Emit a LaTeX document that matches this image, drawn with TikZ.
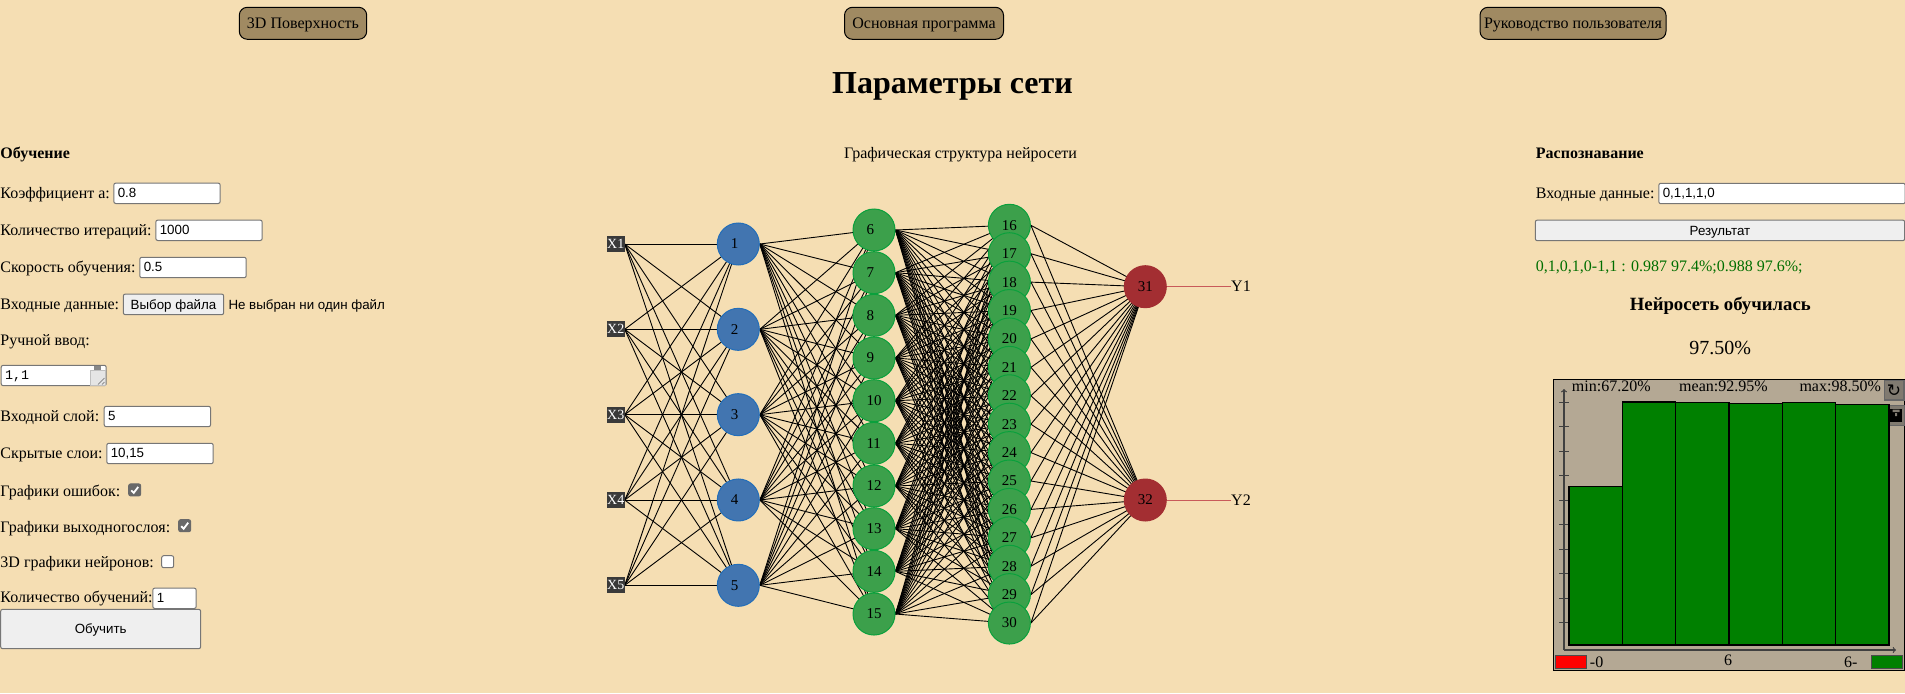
\documentclass[tikz,border=0pt]{standalone}
\usepackage{fontspec}
\setmainfont{Liberation Serif}
\newfontfamily\uisans{Liberation Sans}
\newfontfamily\uimono{Liberation Mono}
\newfontfamily\symfont{DejaVu Sans}
\usetikzlibrary{backgrounds}
\definecolor{pagebg}{RGB}{245,222,179}
\definecolor{btnbrown}{RGB}{160,138,98}
\definecolor{chartbg}{RGB}{180,168,148}
\definecolor{inputgray}{RGB}{118,118,118}
\definecolor{btngray}{RGB}{239,239,239}
\definecolor{chkgray}{RGB}{105,105,105}
\definecolor{xdark}{RGB}{58,58,58}
\definecolor{inblue}{RGB}{66,117,176}
\definecolor{inblueb}{RGB}{35,110,185}
\definecolor{hidgreen}{RGB}{60,160,75}
\definecolor{hidgreenb}{RGB}{10,160,60}
\definecolor{outred}{RGB}{163,46,50}
\definecolor{ywire}{RGB}{200,90,90}
\definecolor{iconbtn}{RGB}{128,122,112}
\definecolor{resgreen}{RGB}{0,110,0}
\tikzset{every node/.style={font=\fontsize{16}{19}\selectfont}}
\tikzstyle{lbl}=[anchor=west, inner sep=0pt, text height=12pt, text depth=2pt]
\tikzstyle{boldlbl}=[lbl, font=\fontsize{16}{19}\selectfont\bfseries]
\tikzstyle{sanslbl}=[lbl, font=\fontsize{13.33}{16}\selectfont\uisans]
\tikzstyle{topbtn}=[draw=black, fill=btnbrown, line width=1pt, rounded corners=8pt, minimum height=32pt, inner xsep=0pt, inner ysep=0pt, text height=12.6pt, text depth=2pt]
\tikzset{inputbox/.style={anchor=west, draw=inputgray, fill=white, line width=1pt, rounded corners=2pt,
    text width=#1, align=left, inner xsep=4pt, inner ysep=0pt, minimum height=20.4pt,
    text height=10pt, text depth=2.5pt, font=\fontsize{13.33}{16}\selectfont\uisans},
  inputbox/.default=98.4pt}
\tikzstyle{graybtn}=[draw=inputgray, fill=btngray, line width=1pt, rounded corners=2pt, inner sep=0pt, text height=10pt, text depth=.5pt, font=\fontsize{13.33}{16}\selectfont\uisans]
\tikzstyle{chkon}=[draw=chkgray, fill=chkgray, line width=1pt, rounded corners=2pt, minimum size=12pt, inner sep=0pt]
\tikzstyle{chkoff}=[chkon, draw=inputgray, fill=white]
\tikzstyle{ball}=[circle, draw, line width=1pt, minimum size=42pt, inner sep=0pt, text width=15pt, align=left, text=black, font=\fontsize{15}{17}\selectfont]
\tikzstyle{inball}=[ball, fill=inblue, draw=inblueb]
\tikzstyle{hidball}=[ball, fill=hidgreen, draw=hidgreenb]
\tikzstyle{outball}=[ball, fill=outred, draw=outred]
\tikzstyle{xbox}=[fill=xdark, text=white, inner sep=0pt, minimum width=17.6pt, minimum height=16pt, font=\fontsize{14}{16}\selectfont]
\tikzstyle{wire}=[black, line width=.9pt]
\tikzstyle{bar}=[draw=black, fill=green!50!black, line width=1.2pt]
\tikzstyle{axisline}=[draw=black!75, line width=1.2pt]
\begin{document}
\begin{tikzpicture}[x=1pt,y=-1pt]
    \useasboundingbox (0,0) rectangle (1905,693);
    \begin{pgfonlayer}{background}
      \fill[pagebg] (0,0) rectangle (1905,693);
    \end{pgfonlayer}

    % top row
    \node[topbtn, minimum width=127.4pt] (btnsurf) at (303,23.3) {3D Поверхность};
    \node[topbtn, minimum width=159pt] (btnmain) at (924,23.3) {Основная программа};
    \node[topbtn, minimum width=186pt] (btnhelp) at (1573,23.3) {Руководство пользователя};
    \node[font=\fontsize{32}{38}\selectfont\bfseries, inner sep=0pt] (title) at (952.5,86) {Параметры сети};

    % left panel labels
    \node[boldlbl] (trainhead) at (0.3,153.3) {Обучение};
    \foreach \name/\ypos/\txt in {coef/193.3/{Коэффициент а:}, iter/230/{Количество итераций:},
      rate/267/{Скорость обучения:}, data/304.7/{Входные данные:}, manual/340/{Ручной ввод:},
      inlayer/416/{Входной слой:}, hidden/453.3/{Скрытые слои:}, errplot/491.3/{Графики ошибок:},
      outplot/527.3/{Графики выходногослоя:}, surfplot/562.7/{3D графики нейронов:}, runs/597/{Количество обучений:}}
    \node[lbl] (lbl\name) at (0.3,\ypos) {\txt};

    % left panel inputs
    \foreach \name/\xpos/\ypos/\txt in {coef/113.3/193.3/0.8, iter/155.3/230.3/1000, rate/139.3/267.5/0.5,
      inlayer/103.7/416.5/5, hidden/106.3/453.5/{10,15}}
    \node[inputbox] (in\name) at (\xpos,\ypos) {\txt};
    \node[inputbox=35.4pt] (inruns) at (152.3,598.3) {1};
    \node[graybtn, minimum width=100.4pt, minimum height=20.6pt] (filebtn) at (173.5,304.4) {Выбор файла};
    \node[sanslbl] (nofile) at (228.3,304.7) {Не выбран ни один файл};
    \node[graybtn, minimum width=200pt, minimum height=39.4pt] (trainbtn) at (100.7,629) {Обучить};

    % text area with its grip
    \node[inputbox=97pt, font=\fontsize{13.33}{16}\selectfont\uimono] (inmanual) at (0.7,375.5) {1,1};
    \fill[white!90!black, draw=black!25, line width=.5pt] (90.3,370) rectangle (105.2,385.2);
    \fill[chkgray!80] (94,365.8) rectangle (101,369.8);
    \draw[black!60, line width=.6pt] (98,384.5) -- (104.5,378) (102,384.5) -- (104.5,382);

    % check boxes
    \node[chkon] (chkerr) at (134.7,489.9) {};
    \node[chkon] (chkout) at (184.7,525.7) {};
    \node[chkoff] (chksurf) at (167.7,561.7) {};
    \foreach \c in {chkerr,chkout}
    \draw[white, line width=1.8pt] ([shift={(-3.5,0.5)}]\c.center) -- ([shift={(-1,3)}]\c.center) -- ([shift={(3.5,-3)}]\c.center);

    \node[inner sep=0pt, text height=12pt, text depth=2pt] (nettitle) at (960.5,153) {Графическая структура нейросети};

    % inputs and first layer
    \foreach \i in {1,...,5}{
      \node[xbox] (x\i) at (615.7,{244+(\i-1)*85.33}) {X\i};
      \node[inball] (n\i) at (738.3,{244+(\i-1)*85.33}) {\i};
    }
    % hidden layers
    \foreach \i in {6,...,15}
      \node[hidball] (n\i) at (874,{230+(\i-6)*42.67}) {\i};
    \foreach \i in {16,...,30}
      \node[hidball] (n\i) at (1009.4,{225.3+(\i-16)*28.41}) {\i};
    % output layer
    \node[outball] (n31) at (1145.3,286.7) {31};
    \node[outball] (n32) at (1145.3,500) {32};
    \node[lbl] (y1) at (1231,286.7) {Y1};
    \node[lbl] (y2) at (1231,500) {Y2};
    \draw[ywire, line width=1pt] (n31.east) -- (y1.west);
    \draw[ywire, line width=1pt] (n32.east) -- (y2.west);

    % all the wires, behind the balls
    \begin{pgfonlayer}{background}
      \foreach \a in {1,...,5}
        \foreach \b in {1,...,5}
          \draw[wire] (x\a.east) -- (n\b.center);
      \foreach \a in {1,...,5}
        \foreach \b in {6,...,15}
          \draw[wire] (n\a.east) -- (n\b.center);
      \foreach \a in {6,...,15}
        \foreach \b in {16,...,30}
          \draw[wire] (n\a.east) -- (n\b.center);
      \foreach \a in {16,...,30}
        \foreach \b in {31,32}
          \draw[wire] (n\a.east) -- (n\b.center);
    \end{pgfonlayer}

    % right panel
    \node[boldlbl] (recoghead) at (1535.7,153.3) {Распознавание};
    \node[lbl] (lblrecog) at (1535.7,193.3) {Входные данные:};
    \node[inputbox=238.4pt] (inrecog) at (1658.3,193.5) {0,1,1,1,0};
    \node[graybtn, minimum width=369.4pt, minimum height=20.6pt] (resbtn) at (1720,230.4) {Результат};
    \node[lbl, text=resgreen] (result) at (1535.7,266) {0,1,0,1,0-1,1 : 0.987 97.4\%;0.988 97.6\%;};
    \node[font=\fontsize{18.72}{22}\selectfont\bfseries, inner sep=0pt] (learned) at (1720.3,306) {Нейросеть обучилась};
    \node[font=\fontsize{20}{24}\selectfont, inner sep=0pt] (percent) at (1720.3,347.7) {97.50\%};

    % chart
    \draw[fill=chartbg, line width=1pt] (1553.3,379.3) rectangle (1904.6,670.3);
    \fill[iconbtn, draw=black!60, line width=1pt] (1889,405.3) rectangle (1904.3,425.3);
    \fill[black] (1890,409) rectangle (1902,421.5);
    \fill[iconbtn] (1892.5,409.5) rectangle (1899.5,412) (1895,413) rectangle (1897,416);
    \foreach \i in {0,...,9}
      \draw[axisline] (1559,{402.3+\i*24.5}) -- (1569,{402.3+\i*24.5});
    \coordinate (origin) at (1564,650);
    \coordinate (ytop) at (1564,389);
    \coordinate (xend) at (1896,650);
    \draw[axisline, ->] (origin) -- (ytop);
    \draw[axisline, ->] (origin) -- (xend);
    \foreach \a/\b/\t in {1569/1622.3/486.3, 1622.3/1675.7/402, 1675.7/1729/402.7,
      1729/1782.3/403.3, 1782.3/1835.7/402.3, 1835.7/1889/404.7}
    \draw[bar] (\a,\t) rectangle (\b,645);
    \node[lbl] (minval) at (1571.7,386.7) {min:67.20\%};
    \node[lbl] (meanval) at (1679,386.7) {mean:92.95\%};
    \node[lbl] (maxval) at (1799.3,386.7) {max:98.50\%};
    \node[draw=black!60, fill=iconbtn, line width=1.5pt, minimum width=19.5pt, minimum height=19.5pt, inner sep=0pt,
      font=\fontsize{17}{19}\selectfont\symfont] (reload) at (1894,390.3) {↻};
    \draw[draw=black!70, fill=red, line width=1pt] (1555.7,655) rectangle (1586.3,668.3);
    \draw[draw=black!70, fill=green!50!black, line width=1pt] (1871.7,655) rectangle (1902.3,668.3);
    \node[lbl] (legmin) at (1589.7,662) {-0};
    \node[lbl, anchor=center] (legmid) at (1728,660) {6};
    \node[lbl] (legmax) at (1844,662) {6-};
  \end{tikzpicture}
\end{document}
